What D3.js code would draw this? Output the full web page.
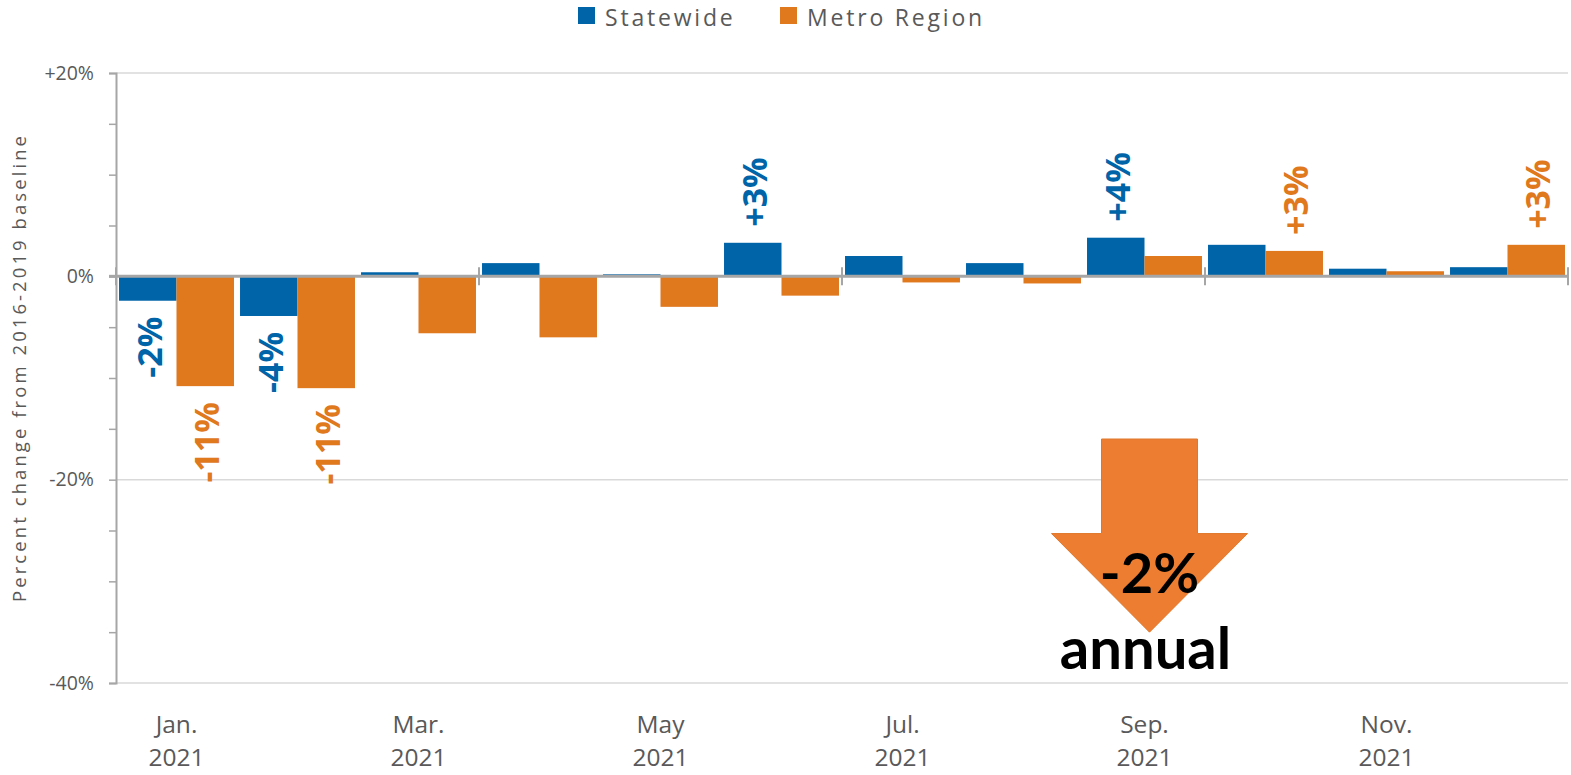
<!DOCTYPE html>
<html><head><meta charset="utf-8">
<script src="https://cdn.jsdelivr.net/npm/d3@7"></script>
<style>html,body{margin:0;padding:0;background:#fff;}svg{display:block;}</style>
</head><body>
<svg id="chart" width="1571" height="775"></svg>
<script>
const months = ["Jan.","Feb.","Mar.","Apr.","May","Jun.","Jul.","Aug.","Sep.","Oct.","Nov.","Dec."];
const tickMonths = ["Jan.","Mar.","May","Jul.","Sep.","Nov."];
const year = "2021";
const seriesNames = ["Statewide","Metro Region"];
const statewide = [-2.4,-3.9,0.4,1.3,0.2,3.3,2.0,1.3,3.8,3.1,0.75,0.9];
const metro = [-10.8,-11.0,-5.6,-6.0,-3.0,-1.9,-0.6,-0.7,2.0,2.5,0.5,3.1];
const statewideLabels = ["-2%","-4%",null,null,null,"+3%",null,null,"+4%",null,null,null];
const metroLabels = ["-11%","-11%",null,null,null,null,null,null,null,"+3%",null,"+3%"];
const yTicks = [20,0,-20,-40];
const yTickLabels = ["+20%","0%","-20%","-40%"];
const yTitle = "Percent change from 2016-2019 baseline";
const annualChange = "-2%";
const annualText = "annual";
const annualArrow = [-16,-25.3,-35]; // top, head base, tip (in % units)

const colors = ["#0064a8","#e0781e"];
const gray = "#595959";
const svg = d3.select("#chart");

const x = d3.scaleBand().domain(d3.range(12)).range([116,1568]).paddingInner(0.05).paddingOuter(0.025);
const xs = d3.scaleBand().domain([0,1]).range([0,x.bandwidth()]);
const y = d3.scaleLinear().domain([-40,20]).range([683,73]);

// gridlines
svg.append("g").selectAll("line").data([20,-20,-40]).join("line")
  .attr("x1",116).attr("x2",1568).attr("y1",d=>y(d)).attr("y2",d=>y(d))
  .attr("stroke","#d9d9d9").attr("stroke-width",1.5);

// y axis
const yAxis = d3.axisLeft(y).tickValues(d3.range(-40,21,5)).tickSize(7).tickFormat("");
const ga = svg.append("g").attr("transform","translate(116,0)").call(yAxis);
ga.select(".domain").attr("stroke","#a6a6a6").attr("stroke-width",2);
ga.selectAll(".tick line").attr("stroke","#a6a6a6").attr("stroke-width",1.5);
svg.append("g").selectAll("text").data(yTicks).join("text")
  .attr("x",94).attr("y",d=>y(d)).attr("dy","0.35em").attr("text-anchor","end")
  .attr("font-family","'Open Sans',sans-serif").attr("font-size",19.5).attr("fill",gray)
  .text((d,i)=>yTickLabels[i]);
svg.append("text").attr("transform",`translate(20,369) rotate(-90)`)
  .attr("text-anchor","middle").attr("dy","0.35em")
  .attr("font-family","'Open Sans',sans-serif").attr("font-size",18.5).attr("fill",gray)
  .attr("textLength",466).attr("lengthAdjust","spacing")
  .text(yTitle);

// bars
const data = months.map((m,i)=>({m,i,vals:[statewide[i],metro[i]],labs:[statewideLabels[i],metroLabels[i]]}));
const gm = svg.append("g").selectAll("g").data(data).join("g").attr("transform",d=>`translate(${x(d.i)},0)`);
gm.selectAll("rect").data(d=>d.vals.map((v,s)=>({v,s}))).join("rect")
  .attr("x",d=>xs(d.s)).attr("width",xs.bandwidth())
  .attr("y",d=>y(Math.max(0,d.v))).attr("height",d=>Math.abs(y(d.v)-y(0)))
  .attr("fill",d=>colors[d.s]);

// zero line
svg.append("line").attr("x1",116).attr("x2",1568).attr("y1",y(0)).attr("y2",y(0))
  .attr("stroke","#a6a6a6").attr("stroke-width",3);
const step = x.step();
svg.append("g").selectAll("line").data([0,3,6,9,12]).join("line")
  .attr("x1",d=>116+d*step).attr("x2",d=>116+d*step).attr("y1",y(0)-9).attr("y2",y(0)+9)
  .attr("stroke","#a6a6a6").attr("stroke-width",2);
svg.append("line").attr("x1",109).attr("x2",116).attr("y1",y(0)).attr("y2",y(0)).attr("stroke","#a6a6a6").attr("stroke-width",3);

// data labels
gm.selectAll("text").data(d=>d.vals.map((v,s)=>({v,s,l:d.labs[s]})).filter(d=>d.l)).join("text")
  .attr("transform",d=>{
    const cx = xs(d.s)+xs.bandwidth()/2+2;
    const yy = d.v<0 ? y(d.v)+16 : y(d.v)-16;
    return `translate(${cx},${yy}) rotate(-90)`;
  })
  .attr("text-anchor",d=>d.v<0?"end":"start").attr("dy","0.36em")
  .attr("font-family","'Open Sans',sans-serif").attr("font-weight","bold").attr("font-size",34)
  .attr("fill",d=>colors[d.s]).text(d=>d.l);

// x labels
const xl = svg.append("g").selectAll("g").data(tickMonths).join("g")
  .attr("transform",d=>`translate(${x(months.indexOf(d))+x.bandwidth()/2},0)`);
xl.append("text").attr("y",733).attr("text-anchor","middle")
  .attr("font-family","'Open Sans',sans-serif").attr("font-size",24.5).attr("fill",gray).text(d=>d);
xl.append("text").attr("y",766).attr("text-anchor","middle")
  .attr("font-family","'Open Sans',sans-serif").attr("font-size",24.5).attr("fill",gray).text(year);

// legend
const lg = svg.append("g");
const legX = [578,780];
seriesNames.forEach((n,i)=>{
  lg.append("rect").attr("x",legX[i]).attr("y",7).attr("width",17).attr("height",17).attr("fill",colors[i]);
  lg.append("text").attr("x",legX[i]+27).attr("y",25.5)
    .attr("font-family","'Open Sans',sans-serif").attr("font-size",23).attr("letter-spacing",2.8)
    .attr("fill",gray).text(n);
});

// annual arrow annotation
const ax = x(8)+x.bandwidth()/2+5;
const sw = 48, hw = 98;
const arrow = d3.path();
arrow.moveTo(ax-sw, y(annualArrow[0]));
arrow.lineTo(ax+sw, y(annualArrow[0]));
arrow.lineTo(ax+sw, y(annualArrow[1]));
arrow.lineTo(ax+hw, y(annualArrow[1]));
arrow.lineTo(ax, y(annualArrow[2]));
arrow.lineTo(ax-hw, y(annualArrow[1]));
arrow.lineTo(ax-sw, y(annualArrow[1]));
arrow.closePath();
svg.append("path").attr("d",arrow.toString()).attr("fill","#ed7d31").attr("stroke","#e0782c").attr("stroke-width",1);
svg.append("text").attr("x",ax).attr("y",593).attr("text-anchor","middle")
  .attr("font-family","Lato,sans-serif").attr("font-weight","bold").attr("font-size",56).attr("fill","#000").text(annualChange);
svg.append("text").attr("x",ax-4).attr("y",669).attr("text-anchor","middle")
  .attr("font-family","Lato,sans-serif").attr("font-weight","bold").attr("font-size",58).attr("fill","#000").text(annualText);
</script>
</body></html>
